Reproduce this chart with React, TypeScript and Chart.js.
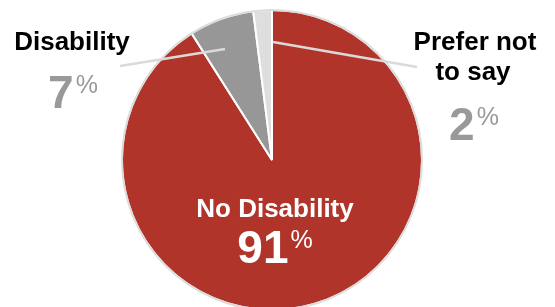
import React, { useEffect, useRef } from "react";
import { Chart, registerables } from "chart.js";

Chart.register(...registerables);

const categories = ["No Disability", "Disability", "Prefer not to say"];
const values = [91, 7, 2];
const percentLabels = ["91", "7", "2"];
const sliceColors = ["#B1342A", "#979797", "#DEDEDE"];

const FONT = '"Liberation Sans", Helvetica, Arial, sans-serif';

const labelPlugin = {
  id: "pieLabels",
  afterDatasetsDraw(chart: any) {
    const ctx = chart.ctx;
    const meta = chart.getDatasetMeta(0);
    const arc0 = meta.data[0];
    const cx = arc0.x;
    const cy = arc0.y;
    const r = arc0.outerRadius;

    ctx.save();
    // outer outline
    ctx.beginPath();
    ctx.arc(cx, cy, r, 0, Math.PI * 2);
    ctx.strokeStyle = "#dcdcdc";
    ctx.lineWidth = 2;
    ctx.stroke();

    // leader lines
    ctx.strokeStyle = "#dadada";
    ctx.lineWidth = 2.5;
    ctx.beginPath();
    ctx.moveTo(cx - 47, cy - 111);
    ctx.lineTo(cx - 152, cy - 94);
    ctx.stroke();
    ctx.beginPath();
    ctx.moveTo(cx + 1, cy - 118);
    ctx.lineTo(cx + 145, cy - 93);
    ctx.stroke();

    const drawPct = (num: string, centerX: number, baseY: number, color: string) => {
      ctx.font = `bold 46px ${FONT}`;
      const nw = ctx.measureText(num).width;
      ctx.font = `25px ${FONT}`;
      const pw = ctx.measureText("%").width;
      const total = nw + 2 + pw;
      const x0 = centerX - total / 2;
      ctx.fillStyle = color;
      ctx.textAlign = "left";
      ctx.textBaseline = "alphabetic";
      ctx.font = `bold 46px ${FONT}`;
      ctx.fillText(num, x0, baseY);
      ctx.font = `25px ${FONT}`;
      ctx.fillText("%", x0 + nw + 2, baseY - 15);
    };

    ctx.textAlign = "center";
    ctx.textBaseline = "alphabetic";

    // No Disability
    ctx.fillStyle = "#ffffff";
    ctx.font = `bold 26px ${FONT}`;
    ctx.fillText(categories[0], cx + 3, cy + 57);
    drawPct(percentLabels[0], cx + 3, cy + 103, "#ffffff");

    // Disability
    ctx.fillStyle = "#000000";
    ctx.textAlign = "center";
    ctx.font = `bold 26px ${FONT}`;
    ctx.fillText(categories[1], cx - 200, cy - 110);
    drawPct(percentLabels[1], cx - 199, cy - 52, "#999999");

    // Prefer not to say
    ctx.fillStyle = "#000000";
    ctx.textAlign = "center";
    ctx.font = `bold 26px ${FONT}`;
    ctx.fillText("Prefer not", cx + 203, cy - 110);
    ctx.fillText("to say", cx + 201, cy - 80);
    drawPct(percentLabels[2], cx + 202, cy - 20, "#999999");

    ctx.restore();
  },
};

export default function App() {
  const ref = useRef<HTMLCanvasElement | null>(null);

  useEffect(() => {
    if (!ref.current) return;
    const chart = new Chart(ref.current, {
      type: "pie",
      data: {
        labels: categories,
        datasets: [
          {
            data: values,
            backgroundColor: sliceColors,
            borderColor: "#ffffff",
            borderWidth: 2,
          },
        ],
      },
      options: {
        responsive: false,
        animation: false,
        radius: 150,
        layout: { padding: { left: 122, right: 133, top: 10, bottom: 0 } },
        plugins: {
          legend: { display: false },
          tooltip: { enabled: false },
        },
      } as any,
      plugins: [labelPlugin],
    });
    return () => chart.destroy();
  }, []);

  return (
    <div
      style={{
        position: "absolute",
        left: 0,
        top: 0,
        width: 555,
        height: 307,
        overflow: "hidden",
        background: "#ffffff",
      }}
    >
      <canvas ref={ref} width={555} height={310} style={{ display: "block" }} />
    </div>
  );
}
